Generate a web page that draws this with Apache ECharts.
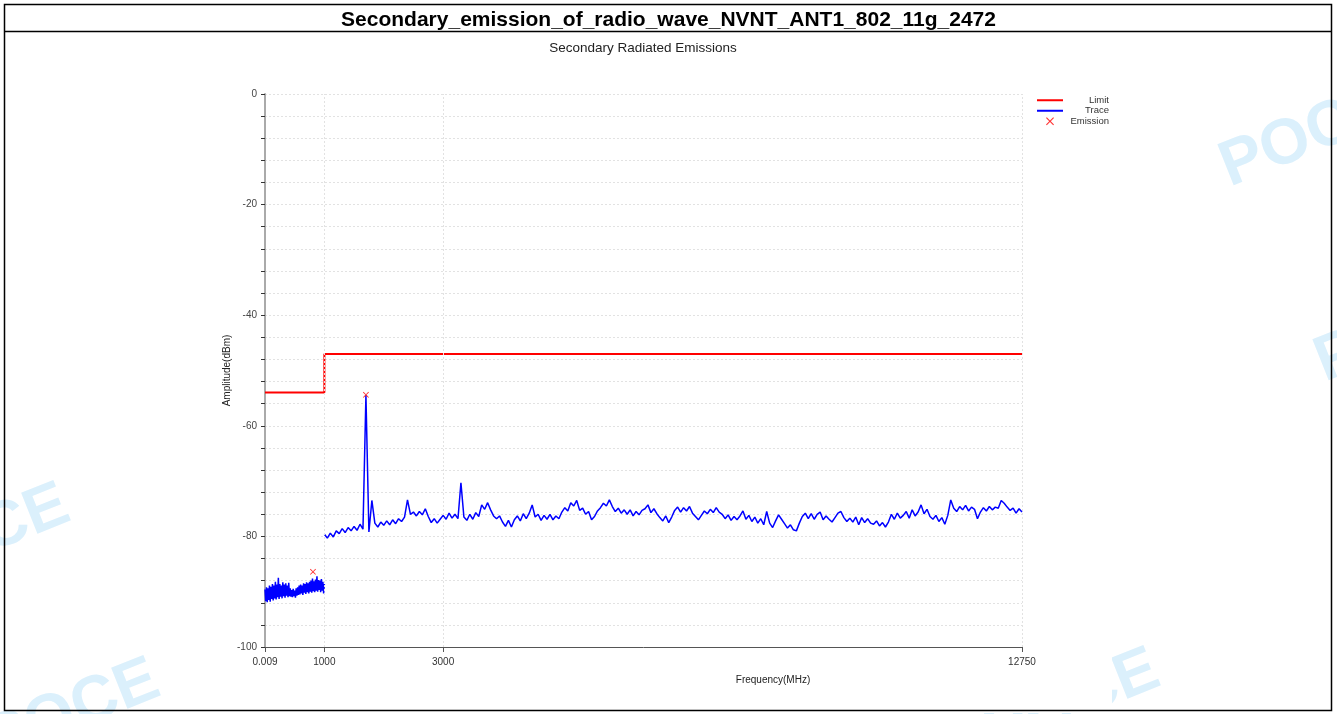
<!DOCTYPE html>
<html>
<head>
<meta charset="utf-8">
<script src="https://cdn.jsdelivr.net/npm/echarts@6/dist/echarts.min.js"></script>
<style>
html,body{margin:0;padding:0;background:#fff;}
#c{width:1337px;height:714px;}
</style>
</head>
<body>
<div id="c"></div>
<script>
// ---- data ----
const chartTitle = 'Secondary_emission_of_radio_wave_NVNT_ANT1_802_11g_2472';
const chartSubtitle = 'Secondary Radiated Emissions';
const xTickValues = [0.009, 1000, 3000, 12750];
const xGridValues = [1000, 3000, 12750];

// limit line (MHz, dBm)
const limitFreq = [0.009, 1000, 1000, 12750];
const limitAmp = [-54, -54, -47, -47];

// low band sweep: 0.009 .. 1000 MHz
const lowSweep = {start: 0.009, stop: 1000};
const lowAmp = [
  -89.6,-91.7,-89.2,-91.9,-89.4,-91.5,-88.9,-91.8,
  -89.1,-91.3,-88.6,-91.6,-88.9,-91.2,-88.2,-91.4,-88.7,-91.0,-87.5,-91.3,
  -88.6,-90.9,-88.9,-91.2,-88.3,-90.8,-88.7,-91.1,-88.5,-90.7,-88.9,-91.0,-88.4,-90.8,
  -89.4,-90.9,-89.7,-91.0,-89.5,-90.8,-89.8,-91.1,-89.4,-90.7,-89.2,-90.6,-88.9,
  -90.5,-88.7,-90.3,-88.9,-90.6,-88.5,-90.2,-88.6,-90.4,-88.3,-90.1,-88.5,-90.3,-88.2,
  -90.0,-88.0,-90.2,-87.6,-89.9,-88.1,-90.1,-87.8,-89.8,-87.2,-90.0,-87.9,-89.7,-88.0,-90.1,-87.7,-89.8,-88.2,-90.3,-88.6
];

// high band sweep: 1000 .. 12750 MHz
const highSweep = {start: 1000, stop: 12750};
const highAmp = [
  -79.6,-80.3,-79.4,-80.1,-79.0,
  -79.5,-78.6,-79.3,-78.4,-79.0,
  -78.2,-78.9,-77.8,-78.7,
  -54.5,
  -79.2,
  -73.5,
  -77.6,-78.3,-77.4,
  -78.0,-77.2,-77.9,-77.0,-77.7,
  -76.8,-77.3,-76.5,
  -73.4,
  -76.0,-75.6,-76.3,-75.5,-76.1,-75.0,
  -76.4,-77.5,-76.8,-77.6,-76.9,
  -76.2,-76.9,-75.8,-76.7,-76.0,-76.8,
  -70.3,
  -76.5,-77.1,-76.0,-76.9,-75.7,-76.4,
  -74.3,-75.1,-73.9,-75.2,-76.3,
  -76.8,-76.3,-77.4,-78.2,-77.1,
  -78.3,-77.0,-76.3,-77.2,-75.9,
  -76.8,-75.8,-74.3,-76.5,-76.0,
  -77.1,-76.2,-76.9,-76.0,-77.0,-76.3,-76.8,
  -75.6,-74.8,-75.4,-73.9,-74.5,-73.5,
  -75.3,-74.9,-76.0,-75.5,
  -77.0,-76.4,-75.4,
  -74.8,-74.0,-74.5,-73.4,
  -74.6,-75.5,-74.9,-75.8,-75.2,
  -76.0,-75.2,-76.3,-75.5,-76.1,-75.3,
  -75.0,-74.3,-75.7,-75.0,-75.9,
  -76.6,-77.2,-76.3,-77.5,-76.5,
  -75.3,-74.7,-75.6,-74.8,-75.4,
  -74.6,-75.8,-76.4,-77.0,
  -76.2,-75.4,-75.9,-75.1,-75.7,
  -74.8,-75.6,-76.0,
  -76.8,-76.1,-77.1,-76.4,-77.0,
  -76.3,-75.4,-76.9,-76.2,-77.3,
  -76.5,-77.6,-76.8,-77.9,-75.5,
  -77.6,-78.4,-77.2,-76.1,-76.9,
  -77.7,-78.5,-77.9,-78.8,-79.0,
  -77.6,-76.4,-75.8,-76.8,-75.9,
  -76.9,-76.0,-75.6,-77.0,-76.3,
  -76.9,-77.4,-76.6,-75.8,-75.5,
  -76.6,-77.3,-76.7,-77.4,-76.5,
  -77.9,-76.6,-77.5,-76.8,-77.6,
  -77.8,-77.2,-78.1,-77.5,-78.3,
  -77.4,-76.0,-76.9,-75.8,-76.7,
  -76.2,-75.5,-76.7,-75.2,-76.3,
  -75.6,-74.3,-75.9,-75.1,-76.4,
  -76.9,-76.2,-77.3,-76.6,-77.8,
  -76.2,-73.4,-74.9,-75.5,-74.6,
  -75.2,-74.4,-75.4,-74.7,-75.1,
  -76.8,-75.6,-74.8,-75.4,-74.6,
  -75.2,-74.7,-74.9,-73.5,-74.0,
  -74.7,-75.3,-74.9,-75.8,-75.0,-75.6
];

// emission markers
const emissionFreq = [808, 1700];
const emissionAmp = [-86.4, -54.4];

// ---- build series data ----
function sweep(cfg, amps) {
  const n = amps.length;
  const step = (cfg.stop - cfg.start) / (n - 1);
  return amps.map((a, i) => [cfg.start + step * i, a]);
}
const traceData = sweep(lowSweep, lowAmp).concat([[1000, null]], sweep(highSweep, highAmp));
const limitData = limitFreq.map((f, i) => [f, limitAmp[i]]);
const emissionData = emissionFreq.map((f, i) => [f, emissionAmp[i]]);

const FONT = '"Liberation Sans", Arial, sans-serif';
const xPath = 'path://M1,0 L5,4 L9,0 L10,1 L6,5 L10,9 L9,10 L5,6 L1,10 L0,9 L4,5 L0,1 Z';
const wmColor = '#dbf0fc';
function wm(x, y, rot) {
  return {type:'text', x:x, y:y, rotation:rot, z:-10, silent:true,
    style:{text:'POCE', fill:wmColor, font:'bold 64px ' + FONT, textVerticalAlign:'bottom'}};
}
const noSymbol = {color: 'rgba(0,0,0,0)', borderColor: 'rgba(0,0,0,0)', borderWidth: 0};

const chart = echarts.init(document.getElementById('c'), null, {renderer:'canvas'});
chart.setOption({
  animation: false,
  backgroundColor: '#fff',
  textStyle: {fontFamily: FONT},
  title: [
    {text: chartTitle, left: 'center', top: 5,
     textStyle: {fontSize: 21, fontWeight: 'bold', color: '#000', fontFamily: FONT}},
  ],
  graphic: [
    wm(1235, 200, 0.38),
    wm(1330, 395, 0.38),
    wm(-90, 600, 0.38),
    wm(0, 775, 0.38),
    wm(1000, 765, 0.38),
    {type:'rect', z:-5, silent:true, shape:{x:222, y:33, width:890, height:680}, style:{fill:'#fff'}},
    {type:'rect', z:10, silent:true, shape:{x:4.5, y:4.5, width:1327, height:706}, style:{fill:null, stroke:'#000', lineWidth:1.5}},
    {type:'line', z:10, silent:true, shape:{x1:4.5, y1:31.5, x2:1331.5, y2:31.5}, style:{stroke:'#000', lineWidth:1.5}},
    {type:'text', z:10, silent:true, x:643, y:48,
     style:{text: chartSubtitle, fill:'#222', font:'13.5px ' + FONT, textAlign:'center', textVerticalAlign:'middle'}},
    {type:'text', z:10, silent:true, x:773, y:680,
     style:{text:'Frequency(MHz)', fill:'#222', font:'10px ' + FONT, textAlign:'center', textVerticalAlign:'middle'}}
  ],
  legend: {
    orient: 'vertical', left: 1036, top: 95, padding: 0,
    itemWidth: 26, itemHeight: 8, itemGap: 0,
    formatter: '{a|{name}}',
    textStyle: {fontSize: 9.5, color: '#333', lineHeight: 10.5,
      rich: {a: {width: 41, align: 'right', fontSize: 9.5, lineHeight: 10.5, color: '#333'}}},
    data: [{name: 'Limit', itemStyle: noSymbol}, {name: 'Trace', itemStyle: noSymbol}, {name: 'Emission'}]
  },
  grid: {left: 265, right: 315, top: 94, bottom: 67, containLabel: false},
  xAxis: {
    type: 'value', min: 0.009, max: 12750,
    axisLine: {onZero: false, lineStyle: {color: '#555', width: 1}},
    axisTick: {show: true, customValues: xTickValues, length: 5, lineStyle: {color: '#555'}},
    axisLabel: {customValues: xTickValues, color: '#333', fontSize: 10, margin: 10,
      formatter: v => String(v)},
    splitLine: {show: false}
  },
  yAxis: {
    type: 'value', min: -100, max: 0, interval: 4,
    name: 'Amplitude(dBm)', nameLocation: 'middle', nameGap: 33, nameMoveOverlap: false,
    nameTextStyle: {fontSize: 10, color: '#222'},
    axisLine: {show: true, lineStyle: {color: '#aaa', width: 2}},
    axisTick: {show: true, length: 4, lineStyle: {color: '#333'}},
    axisLabel: {color: '#444', fontSize: 10, margin: 8,
      formatter: v => (Math.round(v) % 20 === 0 ? String(Math.round(v)) : '')},
    splitLine: {show: true, lineStyle: {color: '#e2e2e2', type: [2, 2], width: 1}}
  },
  series: [
    {name: 'Limit', type: 'line', data: limitData, showSymbol: false, symbol: 'none',
     lineStyle: {color: '#ff0000', width: 2}, itemStyle: {color: '#ff0000'}, z: 3,
     markLine: {silent: true, symbol: 'none', label: {show: false},
       lineStyle: {color: '#e2e2e2', type: [2, 2], width: 1},
       data: xGridValues.map(v => ({xAxis: v}))}},
    {name: 'Trace', type: 'line', data: traceData, showSymbol: false, symbol: 'none',
     connectNulls: false,
     lineStyle: {color: '#0000ff', width: 1.5}, itemStyle: {color: '#0000ff'}, z: 4},
    {name: 'Emission', type: 'scatter', data: emissionData, symbol: xPath, symbolSize: 6,
     symbolKeepAspect: true,
     itemStyle: {color: '#ff0000'}, z: 5}
  ]
});
</script>
</body>
</html>
